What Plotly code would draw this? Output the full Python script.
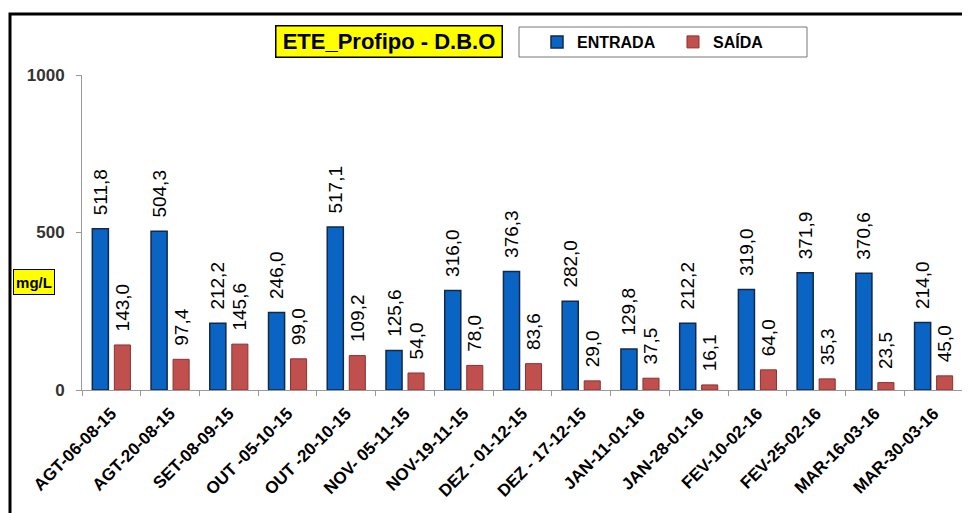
import plotly.graph_objects as go

categories = ["AGT-06-08-15", "AGT-20-08-15", "SET-08-09-15", "OUT -05-10-15", "OUT -20-10-15",
              "NOV- 05-11-15", "NOV-19-11-15", "DEZ - 01-12-15", "DEZ - 17-12-15", "JAN-11-01-16",
              "JAN-28-01-16", "FEV-10-02-16", "FEV-25-02-16", "MAR-16-03-16", "MAR-30-03-16"]
entrada = [511.8, 504.3, 212.2, 246.0, 517.1, 125.6, 316.0, 376.3, 282.0, 129.8,
           212.2, 319.0, 371.9, 370.6, 214.0]
saida = [143.0, 97.4, 145.6, 99.0, 109.2, 54.0, 78.0, 83.6, 29.0, 37.5,
         16.1, 64.0, 35.3, 23.5, 45.0]
y_ticks = [0, 500, 1000]


def fmt(v):
    return "\u00a0\u00a0" + f"{v:.1f}".replace(".", ",")


OFF = 8  # page body margin
W, H = 970 - OFF, 513 - OFF
# plot area in screen pixels
SL, SR, ST, SB = 82, 963, 75, 390
PL, PR, PT, PB = SL - OFF, SR - OFF, ST - OFF, SB - OFF


def px(x):
    return (x - SL) / (SR - SL)


def py(y):
    return (SB - y) / (SB - ST)


fig = go.Figure()
fig.add_trace(go.Bar(
    name="ENTRADA", x=categories, y=entrada,
    text=[fmt(v) for v in entrada], textposition="outside", textangle=-90,
    constraintext="none",
    textfont=dict(family="Arial, Liberation Sans", size=19, color="black"),
    marker=dict(color="#0a64c4", line=dict(color="#13284a", width=1.5)),
    cliponaxis=False,
))
fig.add_trace(go.Bar(
    name="SAÍDA", x=categories, y=saida,
    text=[fmt(v) for v in saida], textposition="outside", textangle=-90,
    constraintext="none",
    textfont=dict(family="Arial, Liberation Sans", size=19, color="black"),
    marker=dict(color="#c0504d", line=dict(color="#8c3230", width=1)),
    cliponaxis=False,
))

fig.update_layout(
    width=W, height=H,
    margin=dict(l=PL, r=W - PR, t=PT, b=H - PB, autoexpand=False),
    paper_bgcolor="white", plot_bgcolor="white",
    barmode="group", bargap=0.25, bargroupgap=0.27,
    font=dict(family="Arial, Liberation Sans", color="black"),
    showlegend=True,
    legend=dict(orientation="h", xref="container", yref="container",
                x=(537 - OFF) / W, y=1 - (42 - OFF) / H, xanchor="left", yanchor="middle",
                bgcolor="rgba(0,0,0,0)", borderwidth=0,
                font=dict(family="Arial, Liberation Sans", size=16, color="black", weight="bold"),
                entrywidth=91, itemwidth=30, itemclick=False),
    xaxis=dict(tickangle=-45, showline=True, linecolor="#999", linewidth=1, automargin=False,
               ticks="outside", ticklen=5, tickcolor="#999", tickson="boundaries",
               ticklabelstandoff=6,
               tickfont=dict(family="Arial, Liberation Sans", size=17, color="black", weight="bold"),
               showgrid=False),
    yaxis=dict(range=[0, 1000], tickvals=y_ticks, ticktext=[str(t) for t in y_ticks],
               showline=True, linecolor="#999", linewidth=1, automargin=False,
               ticks="outside", ticklen=5, tickcolor="#999", showgrid=False, zeroline=False,
               ticklabelstandoff=8,
               tickfont=dict(family="Arial, Liberation Sans", size=17, color="#333", weight="bold")),
)

# outer frame
fig.add_shape(type="rect", xref="paper", yref="paper",
              x0=px(10), x1=px(1100), y0=py(700), y1=py(14),
              line=dict(color="black", width=3), fillcolor="rgba(0,0,0,0)", layer="above")
# legend box
fig.add_shape(type="rect", xref="paper", yref="paper",
              x0=px(519), x1=px(807), y0=py(57), y1=py(27),
              line=dict(color="#777", width=1), fillcolor="white", layer="below")

fig.add_annotation(text="<b>ETE_Profipo - D.B.O</b>", xref="paper", yref="paper",
                   x=px(389), y=py(41.5), xanchor="center", yanchor="middle", showarrow=False,
                   font=dict(family="Arial, Liberation Sans", size=22, color="black"),
                   bgcolor="#ffff00", bordercolor="black", borderwidth=1.5, borderpad=3,
                   width=219, height=24)
fig.add_annotation(text="<b>mg/L</b>", xref="paper", yref="paper",
                   x=px(34), y=py(282), xanchor="center", yanchor="middle", showarrow=False,
                   font=dict(family="Arial, Liberation Sans", size=15, color="black"),
                   bgcolor="#ffff00", bordercolor="black", borderwidth=1, borderpad=2,
                   width=36, height=20)

fig.write_html("out.html")
